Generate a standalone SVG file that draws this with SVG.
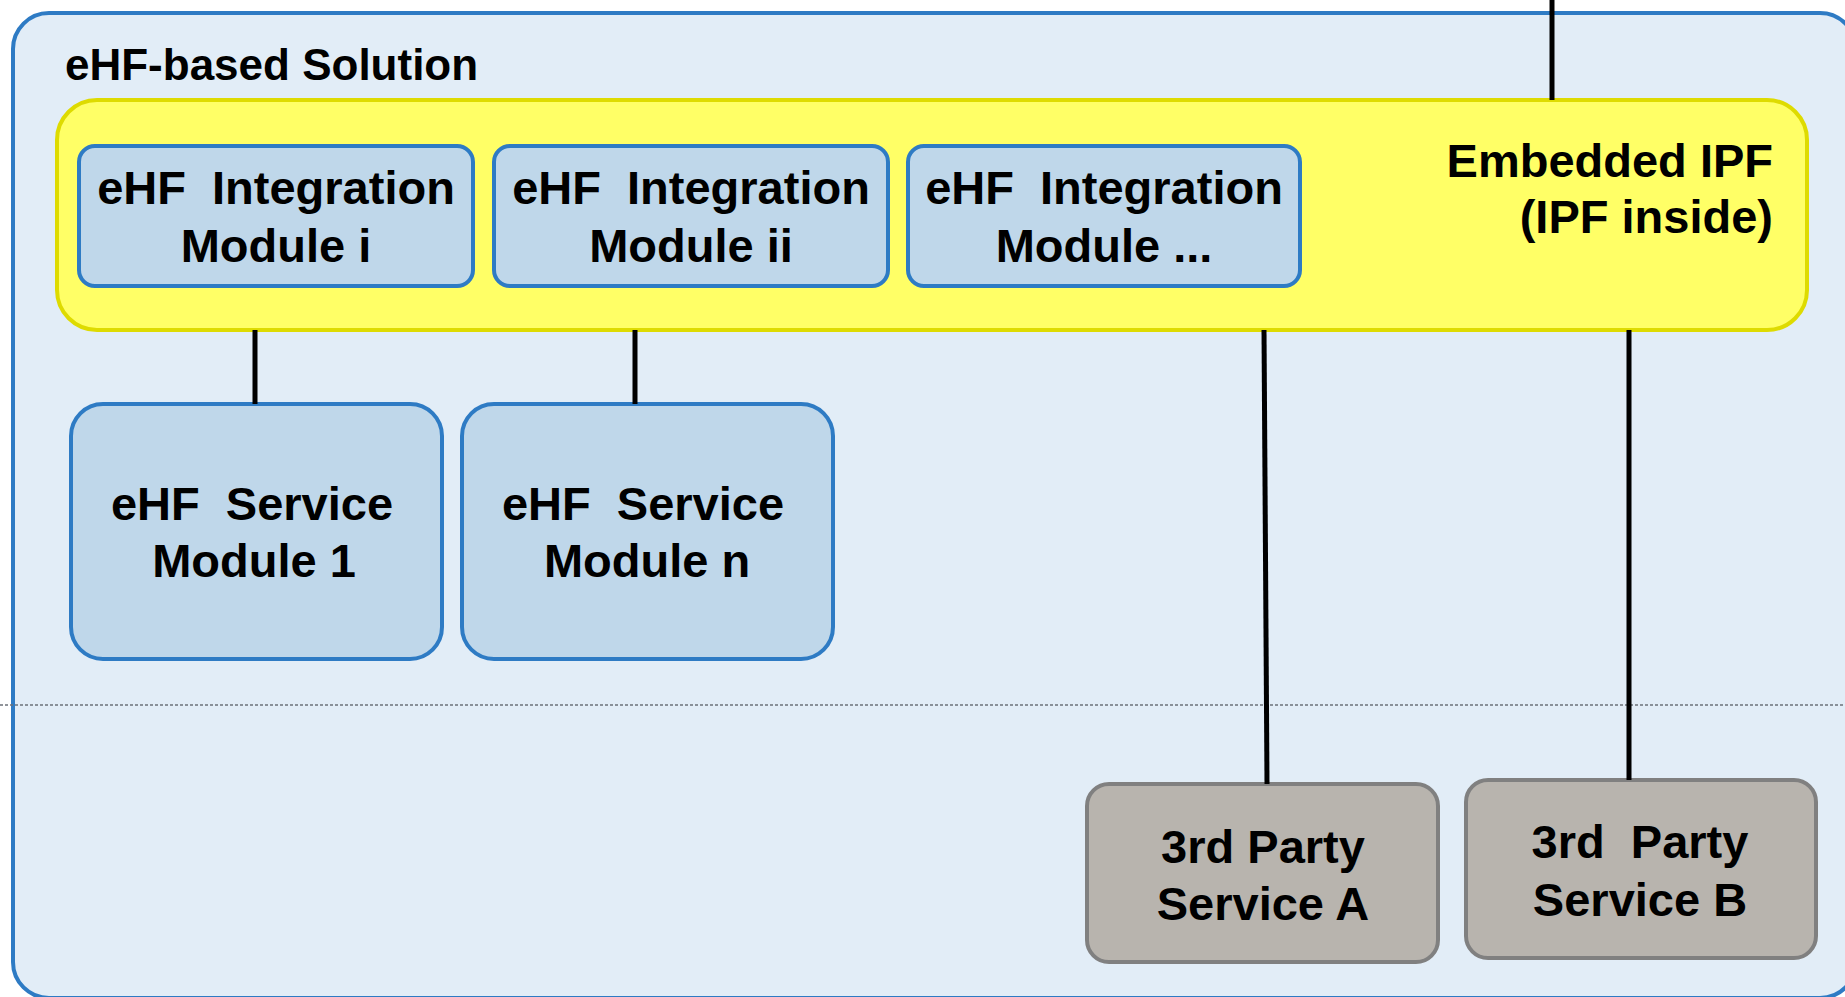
<svg xmlns="http://www.w3.org/2000/svg" width="1845" height="997" viewBox="0 0 1845 997">
<style>
text{font-family:"Liberation Sans",Arial,sans-serif;font-weight:bold;fill:#000}
.t{font-size:47px;text-anchor:middle}
.title{font-size:44px}
.outer{fill:#e2edf7;stroke:#2e7bc4;stroke-width:4}
.ipf{fill:#ffff66;stroke:#dedb00;stroke-width:4}
.mod{fill:#bfd7ea;stroke:#2e7bc4;stroke-width:4}
.ext{fill:#b8b4ae;stroke:#808080;stroke-width:4}
.conn line{stroke:#000;stroke-width:5}
</style>
<g id="solution">
<rect class="outer" x="13" y="13" width="1843" height="985" rx="36"/>
<text class="title" x="65" y="80">eHF-based Solution</text>
</g>
<line x1="0" y1="705" x2="1845" y2="705" stroke="#6c717a" stroke-width="1.5" stroke-dasharray="3,2"/>
<g id="ipf">
<rect class="ipf" x="57" y="100" width="1750" height="230" rx="40"/>
<text class="t" x="1773" y="177" style="text-anchor:end">Embedded IPF</text>
<text class="t" x="1773" y="233" style="text-anchor:end">(IPF inside)</text>
</g>
<g id="int-i">
<rect class="mod" x="79" y="146" width="394" height="140" rx="16"/>
<text class="t" x="276" y="204" xml:space="preserve">eHF  Integration</text>
<text class="t" x="276" y="262">Module i</text>
</g>
<g id="int-ii">
<rect class="mod" x="494" y="146" width="394" height="140" rx="16"/>
<text class="t" x="691" y="204" xml:space="preserve">eHF  Integration</text>
<text class="t" x="691" y="262">Module ii</text>
</g>
<g id="int-n">
<rect class="mod" x="908" y="146" width="392" height="140" rx="16"/>
<text class="t" x="1104" y="204" xml:space="preserve">eHF  Integration</text>
<text class="t" x="1104" y="262">Module ...</text>
</g>
<g id="svc-1">
<rect class="mod" x="71" y="404" width="371" height="255" rx="32"/>
<text class="t" x="252" y="520" xml:space="preserve">eHF  Service</text>
<text class="t" x="254" y="577">Module 1</text>
</g>
<g id="svc-n">
<rect class="mod" x="462" y="404" width="371" height="255" rx="32"/>
<text class="t" x="643" y="520" xml:space="preserve">eHF  Service</text>
<text class="t" x="647" y="577">Module n</text>
</g>
<g id="svc-a">
<rect class="ext" x="1087" y="784" width="351" height="178" rx="22"/>
<text class="t" x="1263" y="863">3rd Party</text>
<text class="t" x="1263" y="920">Service A</text>
</g>
<g id="svc-b">
<rect class="ext" x="1466" y="780" width="350" height="178" rx="22"/>
<text class="t" x="1640" y="858" xml:space="preserve">3rd  Party</text>
<text class="t" x="1640" y="916">Service B</text>
</g>
<g class="conn" id="connectors">
<line x1="1552" y1="0" x2="1552" y2="100"/>
<line x1="255" y1="330" x2="255" y2="404"/>
<line x1="635" y1="330" x2="635" y2="404"/>
<line x1="1264" y1="330" x2="1267" y2="784"/>
<line x1="1629" y1="330" x2="1629" y2="780"/>
</g>
</svg>
